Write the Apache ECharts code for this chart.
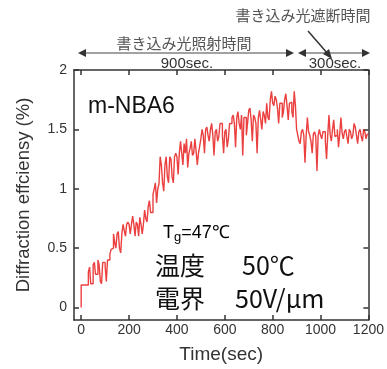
<!DOCTYPE html>
<html><head><meta charset="utf-8">
<script src="https://cdn.jsdelivr.net/npm/echarts@6/dist/echarts.min.js"></script>
<style>html,body{margin:0;padding:0;background:#fff}#c{width:387px;height:369px}</style>
</head><body><div id="c"></div>
<script>
var times = [0,5,10,15,20,25,30,35,40,45,50,55,60,65,70,75,80,85,90,95,
100,105,110,115,120,125,130,135,140,145,150,155,160,165,170,175,180,185,190,195,
200,205,210,215,220,225,230,235,240,245,250,255,260,265,270,275,280,285,290,295,
300,305,310,315,320,325,330,335,340,345,350,355,360,365,370,375,380,385,390,395,
400,405,410,415,420,425,430,435,440,445,450,455,460,465,470,475,480,485,490,495,
500,505,510,515,520,525,530,535,540,545,550,555,560,565,570,575,580,585,590,595,
600,605,610,615,620,625,630,635,640,645,650,655,660,665,670,675,680,685,690,695,
700,705,710,715,720,725,730,735,740,745,750,755,760,765,770,775,780,785,790,795,
800,805,810,815,820,825,830,835,840,845,850,855,860,865,870,875,880,885,890,895,
900,905,910,915,920,925,930,935,940,945,950,955,960,965,970,975,980,985,990,995,
1000,1005,1010,1015,1020,1025,1030,1035,1040,1045,1050,1055,1060,1065,1070,1075,1080,1085,1090,1095,
1100,1105,1110,1115,1120,1125,1130,1135,1140,1145,1150,1155,1160,1165,1170,1175,1180,1185,1190,1195,
1200];
var efficiency = [0,0.19,0.19,0.19,0.19,0.19,0.19,0.3,0.34,0.2,0.2,0.36,0.38,0.28,0.28,0.4,0.36,0.22,0.2,0.38,
0.38,0.35,0.22,0.4,0.4,0.45,0.49,0.5,0.62,0.55,0.5,0.62,0.64,0.5,0.46,0.62,0.7,0.65,0.6,0.7,
0.72,0.7,0.62,0.7,0.77,0.7,0.6,0.72,0.7,0.6,0.76,0.7,0.62,0.7,0.82,0.75,0.72,0.85,0.9,0.8,
0.8,0.95,1.0,1.05,0.88,1.0,1.04,1.27,1.2,1.05,0.98,1.2,1.27,1.1,1.05,1.27,1.25,1.1,1.05,1.27,
1.3,1.27,1.12,1.3,1.4,1.3,1.2,1.38,1.3,1.42,1.18,1.3,1.34,1.4,1.28,1.3,1.42,1.32,1.2,1.3,
1.36,1.42,1.5,1.45,1.3,1.5,1.52,1.45,1.4,1.5,1.55,1.45,1.28,1.48,1.5,1.4,1.44,1.55,1.55,1.45,
1.3,1.48,1.5,1.35,1.42,1.55,1.55,1.6,1.62,1.55,1.35,1.6,1.65,1.55,1.5,1.62,1.28,1.6,1.6,1.45,
1.55,1.66,1.68,1.58,1.4,1.62,1.6,1.55,1.3,1.6,1.66,1.58,1.5,1.65,1.62,1.55,1.72,1.6,1.58,1.75,
1.82,1.72,1.7,1.78,1.75,1.68,1.55,1.72,1.72,1.6,1.65,1.75,1.8,1.7,1.58,1.72,1.73,1.65,1.6,1.82,
1.7,1.5,1.45,1.4,1.38,1.48,1.5,1.45,1.22,1.45,1.6,1.48,1.45,1.4,1.3,1.46,1.48,1.44,1.15,1.45,
1.5,1.45,1.42,1.48,1.48,1.4,1.25,1.45,1.62,1.46,1.4,1.5,1.58,1.44,1.45,1.5,1.35,1.46,1.6,1.47,
1.42,1.48,1.5,1.44,1.38,1.5,1.48,1.42,1.45,1.55,1.52,1.45,1.38,1.48,1.5,1.44,1.4,1.5,1.48,1.42,
1.46];
var xTicks = [0,200,400,600,800,1000,1200];
var yTicks = [0,0.5,1,1.5,2];

var chart = echarts.init(document.getElementById('c'));
var lineStyle = {color:'#333', width:1.5};
var font = 'Liberation Sans, Arial, sans-serif';
var jp = 'Noto Sans CJK JP, sans-serif';
var data = times.map(function(t,i){return [t, efficiency[i]];});
var plain = function(v){return String(v);};

function arrowHead(x, y, dir) {
  return {type:'polygon', shape:{points: dir > 0 ? [[x,y],[x-8,y-4],[x-8,y+4]] : [[x,y],[x+8,y-4],[x+8,y+4]]}, style:{fill:'#333'}};
}

chart.setOption({
  animation:false,
  grid:{left:74, right:18, top:70, bottom:39},
  xAxis:[{
    type:'value', min:-30, max:1200,
    axisLine:{onZero:false, lineStyle:lineStyle},
    axisTick:{inside:true, length:5, customValues:xTicks, lineStyle:lineStyle},
    axisLabel:{customValues:xTicks, formatter:plain, color:'#333', fontSize:14, fontFamily:font, margin:3},
    splitLine:{show:false},
    name:'Time(sec)', nameLocation:'middle', nameGap:25,
    nameTextStyle:{color:'#333', fontSize:19, fontFamily:font}
  },{
    type:'value', min:-30, max:1200, position:'top',
    axisLine:{onZero:false, lineStyle:lineStyle},
    axisTick:{inside:true, length:5, customValues:xTicks, lineStyle:lineStyle},
    axisLabel:{show:false}, splitLine:{show:false}
  }],
  yAxis:[{
    type:'value', min:-0.105, max:2,
    axisLine:{show:true, onZero:false, lineStyle:lineStyle},
    axisTick:{show:true, inside:true, length:5, customValues:yTicks, lineStyle:lineStyle},
    axisLabel:{customValues:yTicks, formatter:plain, color:'#333', fontSize:14, fontFamily:font, margin:7},
    splitLine:{show:false},
    name:'Diffraction effciensy (%)', nameLocation:'middle', nameGap:41,
    nameTextStyle:{color:'#333', fontSize:18.5, fontFamily:font}
  },{
    type:'value', min:-0.105, max:2, position:'right',
    axisLine:{show:true, onZero:false, lineStyle:lineStyle},
    axisTick:{show:true, inside:true, length:5, customValues:yTicks, lineStyle:lineStyle},
    axisLabel:{show:false}, splitLine:{show:false}
  }],
  series:[{
    type:'line', data:data, step:'start', symbol:'none',
    xAxisIndex:0, yAxisIndex:0,
    lineStyle:{color:'rgba(228,0,0,0.75)', width:1.4}
  }],
  graphic:[
    {type:'line', shape:{x1:80,y1:53,x2:292,y2:53}, style:{stroke:'#444', lineWidth:1}},
    arrowHead(78,53,-1), arrowHead(294,53,1),
    {type:'line', shape:{x1:300,y1:53,x2:368,y2:53}, style:{stroke:'#444', lineWidth:1}},
    arrowHead(298,53,-1), arrowHead(370,53,1),
    {type:'line', shape:{x1:308,y1:31,x2:328,y2:54}, style:{stroke:'#333', lineWidth:1.5}},
    {type:'polygon', shape:{points:[[332,59],[323,54],[329,49]]}, style:{fill:'#333'}},
    {type:'text', x:184, y:43, style:{text:'書き込み光照射時間', font:'15px '+jp, fill:'#555', align:'center', verticalAlign:'middle'}},
    {type:'text', x:303, y:15, style:{text:'書き込み光遮断時間', font:'15px '+jp, fill:'#555', align:'center', verticalAlign:'middle'}},
    {type:'text', x:187, y:64, style:{text:'900sec.', font:'15px '+font, fill:'#333', align:'center', verticalAlign:'middle'}},
    {type:'text', x:335, y:64, style:{text:'300sec.', font:'15px '+font, fill:'#333', align:'center', verticalAlign:'middle'}},
    {type:'text', x:88, y:107, style:{text:'m-NBA6', font:'23px '+font, fill:'#111', verticalAlign:'middle'}},
    {type:'text', x:163, y:233, style:{text:'{a|T}{b|g}{a|=47℃}', verticalAlign:'middle',
      rich:{a:{fontSize:18, fontFamily:font, color:'#111'}, b:{fontSize:13, fontFamily:font, color:'#111', padding:[9,0,0,0]}}}},
    {type:'text', x:155, y:265, style:{text:'温度', font:'25px '+jp, fill:'#111', verticalAlign:'middle'}},
    {type:'text', x:242, y:265, style:{text:'50℃', font:'25px '+jp, fill:'#111', verticalAlign:'middle'}},
    {type:'text', x:155, y:298, style:{text:'電界', font:'25px '+jp, fill:'#111', verticalAlign:'middle'}},
    {type:'text', x:235, y:298, style:{text:'50V/μm', font:'25px '+jp, fill:'#111', verticalAlign:'middle'}}
  ]
});
</script></body></html>
